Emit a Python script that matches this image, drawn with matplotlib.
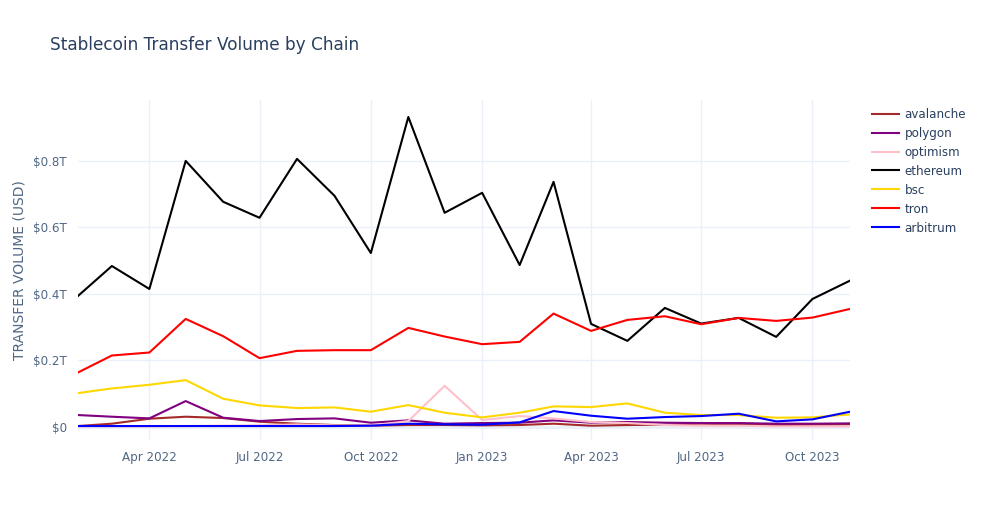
import matplotlib
matplotlib.use("Agg")
import matplotlib.pyplot as plt
import matplotlib.dates as mdates
import pandas as pd
import numpy as np

# monthly stablecoin transfer volume, trillions of USD
months = pd.date_range("2022-02-01", periods=22, freq="MS")

avalanche = [0.003, 0.010, 0.025, 0.031, 0.027, 0.016, 0.010, 0.006, 0.004, 0.006, 0.006, 0.005,
             0.006, 0.010, 0.004, 0.006, 0.007, 0.010, 0.008, 0.006, 0.007, 0.008]
polygon = [0.036, 0.031, 0.026, 0.078, 0.028, 0.018, 0.024, 0.026, 0.013, 0.020, 0.010, 0.012,
           0.013, 0.020, 0.013, 0.015, 0.013, 0.012, 0.012, 0.010, 0.010, 0.011]
optimism = [0.002, 0.002, 0.002, 0.003, 0.004, 0.005, 0.008, 0.005, 0.004, 0.018, 0.124, 0.021,
            0.033, 0.026, 0.015, 0.012, 0.006, 0.004, 0.004, 0.002, 0.002, 0.002]
ethereum = [0.394, 0.484, 0.415, 0.800, 0.677, 0.629, 0.806, 0.695, 0.523, 0.932, 0.644, 0.704,
            0.487, 0.737, 0.310, 0.259, 0.358, 0.311, 0.328, 0.271, 0.385, 0.440]
bsc = [0.102, 0.116, 0.127, 0.141, 0.085, 0.065, 0.057, 0.059, 0.046, 0.066, 0.043, 0.029,
       0.043, 0.062, 0.060, 0.071, 0.043, 0.036, 0.036, 0.028, 0.029, 0.038]
tron = [0.164, 0.215, 0.224, 0.325, 0.273, 0.207, 0.229, 0.231, 0.231, 0.298, 0.272, 0.249,
        0.256, 0.341, 0.289, 0.322, 0.333, 0.309, 0.328, 0.319, 0.329, 0.355]
arbitrum = [0.003, 0.003, 0.003, 0.003, 0.003, 0.003, 0.003, 0.003, 0.004, 0.010, 0.008, 0.007,
            0.014, 0.048, 0.034, 0.025, 0.030, 0.033, 0.040, 0.017, 0.023, 0.046]

chains = ["avalanche", "polygon", "optimism", "ethereum", "bsc", "tron", "arbitrum"]
series = [avalanche, polygon, optimism, ethereum, bsc, tron, arbitrum]
colors = ["#a52a2a", "#800080", "#ffc0cb", "#000000", "#ffd700", "#ff0000", "#0000ff"]

txt = "#2a3f5f"
tick_c = "#506784"
grid = "#ebf0f8"
plt.rcParams['font.family'] = ['DejaVu Sans']

fig = plt.figure(figsize=(9.83, 5.25), dpi=100)
ax = fig.add_axes([78/983, 1 - 440/525, (850-78)/983, 340/525])

for name, vals, c in zip(chains, series, colors):
    ax.plot(months, vals, color=c, lw=1.5, label=name)

ax.set_xlim(months[0], months[-1])
ax.set_ylim(-0.039, 0.983)

ticks = [0, 0.2, 0.4, 0.6, 0.8]
ax.set_yticks(ticks)
ax.set_yticklabels(["$0"] + [f"${t:.1f}T" for t in ticks[1:]])
xt = pd.to_datetime(["2022-04-01", "2022-07-01", "2022-10-01", "2023-01-01",
                     "2023-04-01", "2023-07-01", "2023-10-01"])
ax.set_xticks(xt)
ax.set_xticklabels([d.strftime("%b %Y") for d in xt])

ax.grid(True, color=grid, lw=1)
ax.axhline(0, color=grid, lw=2, zorder=0.5)
ax.set_axisbelow(True)
for s in ax.spines.values():
    s.set_visible(False)
ax.tick_params(length=0, colors=tick_c, labelsize=8.6, pad=8)

ax.set_ylabel("TRANSFER VOLUME (USD)", color=tick_c, fontsize=10, labelpad=5)
fig.text(50/983, 1 - 45/525, "Stablecoin Transfer Volume by Chain", color=txt,
         fontsize=12.2, va="center", ha="left")

leg = ax.legend(loc="upper left", bbox_to_anchor=(861/983, 1 - 97/525),
                bbox_transform=fig.transFigure, frameon=False, fontsize=8.6,
                handlelength=2.3, handletextpad=0.45, labelspacing=0.5)
for t in leg.get_texts():
    t.set_color(txt)

fig.savefig("out.png", dpi=100)
